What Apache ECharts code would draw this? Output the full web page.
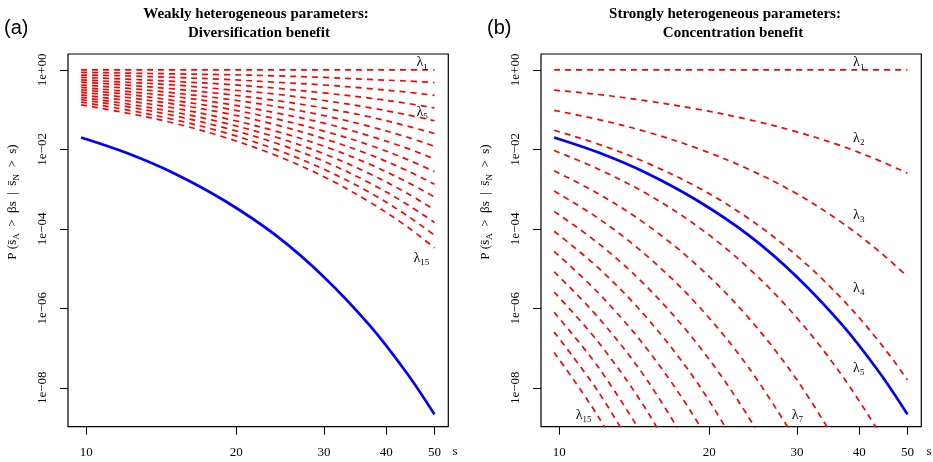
<!DOCTYPE html>
<html><head><meta charset="utf-8">
<script src="https://cdn.jsdelivr.net/npm/echarts@6/dist/echarts.min.js"></script>
<style>html,body{margin:0;padding:0;background:#fff}#c{width:933px;height:462px}</style>
</head><body><div id="c"></div>
<script>
// s values (x) at which curves were read
const S = [9.77, 12, 15, 19, 24, 30, 37, 44, 50];
// log10 of probability, blue curve (same in both panels)
const BLUE = [-1.70, -2.08, -2.60, -3.30, -4.16, -5.21, -6.42, -7.63, -8.67];
// panel (a) red curves lambda1..lambda15 (log10 p)
const RED_A1 = [0, 0, 0, 0, 0, 0, 0, 0, 0];
const RED_A2 = [-0.06, -0.08, -0.10, -0.12, -0.15, -0.19, -0.24, -0.28, -0.32];
const RED_A3 = [-0.13, -0.15, -0.19, -0.24, -0.31, -0.38, -0.47, -0.56, -0.64];
const RED_A4 = [-0.19, -0.23, -0.29, -0.36, -0.46, -0.58, -0.71, -0.84, -0.96];
const RED_A5 = [-0.25, -0.31, -0.38, -0.49, -0.61, -0.77, -0.95, -1.13, -1.28];
const RED_A6 = [-0.31, -0.38, -0.48, -0.61, -0.77, -0.96, -1.18, -1.41, -1.60];
const RED_A7 = [-0.38, -0.46, -0.58, -0.73, -0.92, -1.15, -1.42, -1.69, -1.92];
const RED_A8 = [-0.44, -0.54, -0.67, -0.85, -1.08, -1.34, -1.66, -1.97, -2.24];
const RED_A9 = [-0.50, -0.61, -0.77, -0.97, -1.23, -1.54, -1.89, -2.25, -2.56];
const RED_A10 = [-0.56, -0.69, -0.86, -1.09, -1.38, -1.73, -2.13, -2.53, -2.88];
const RED_A11 = [-0.63, -0.77, -0.96, -1.22, -1.54, -1.92, -2.37, -2.82, -3.20];
const RED_A12 = [-0.69, -0.85, -1.06, -1.34, -1.69, -2.11, -2.61, -3.10, -3.52];
const RED_A13 = [-0.75, -0.92, -1.15, -1.46, -1.84, -2.30, -2.84, -3.38, -3.84];
const RED_A14 = [-0.81, -1.00, -1.25, -1.58, -2.00, -2.50, -3.08, -3.66, -4.16];
const RED_A15 = [-0.88, -1.08, -1.34, -1.70, -2.15, -2.69, -3.32, -3.94, -4.48];
// panel (b) red curves lambda1..lambda15 (log10 p), read until they leave the plot
const RED_B1 = [0, 0, 0, 0, 0, 0, 0, 0, 0];
const RED_B2 = [-0.51, -0.62, -0.78, -0.99, -1.25, -1.56, -1.92, -2.29, -2.60];
const RED_B3 = [-1.02, -1.25, -1.56, -1.98, -2.50, -3.12, -3.85, -4.58, -5.20];
const RED_B4 = [-1.52, -1.87, -2.34, -2.96, -3.74, -4.68, -5.77, -6.86, -7.80];
const RED_B5 = [-2.03, -2.50, -3.12, -3.95, -4.99, -6.24, -7.70, -9.15];
const RED_B6 = [-2.54, -3.12, -3.90, -4.94, -6.24, -7.80, -9.62];
const RED_B7 = [-3.05, -3.74, -4.68, -5.93, -7.49, -9.36];
const RED_B8 = [-3.56, -4.37, -5.46, -6.92, -8.74, -10.92];
const RED_B9 = [-4.06, -4.99, -6.24, -7.90, -9.98];
const RED_B10 = [-4.57, -5.62, -7.02, -8.89, -11.23];
const RED_B11 = [-5.08, -6.24, -7.80, -9.88];
const RED_B12 = [-5.59, -6.86, -8.58, -10.87];
const RED_B13 = [-6.10, -7.49, -9.36];
const RED_B14 = [-6.60, -8.11, -10.14];
const RED_B15 = [-7.11, -8.74, -10.92];

const XTICKS = [10, 20, 30, 40, 50];
const YTICK_EXP = [0, -2, -4, -6, -8];
const YTICK_LABELS = ['1e+00', '1e\u221202', '1e\u221204', '1e\u221206', '1e\u221208'];
const TITLES_A = ['Weakly heterogeneous parameters:', 'Diversification benefit'];
const TITLES_B = ['Strongly heterogeneous parameters:', 'Concentration benefit'];
// lambda label anchors: [panel, index, s, log10 p]
const LAMBDA_LABELS = [
  [0, '1', 46.0, 0.18], [0, '5', 46.0, -1.06], [0, '15', 45.4, -4.74],
  [1, '1', 38.9, 0.18], [1, '2', 38.9, -1.71], [1, '3', 38.9, -3.65],
  [1, '4', 38.9, -5.49], [1, '5', 38.9, -7.51], [1, '7', 29.3, -8.69], [1, '15', 10.8, -8.69]
];

const RED_A = [RED_A1,RED_A2,RED_A3,RED_A4,RED_A5,RED_A6,RED_A7,RED_A8,RED_A9,RED_A10,RED_A11,RED_A12,RED_A13,RED_A14,RED_A15];
const RED_B = [RED_B1,RED_B2,RED_B3,RED_B4,RED_B5,RED_B6,RED_B7,RED_B8,RED_B9,RED_B10,RED_B11,RED_B12,RED_B13,RED_B14,RED_B15];

const SERIF = '"Liberation Serif", "DejaVu Serif", serif';
const XMIN = 0.9636, XMAX = 1.7268, YMIN = -8.98, YMAX = 0.40;
const toPts = vals => vals.map((v, i) => [Math.log10(S[i]), v]);

const chart = echarts.init(document.getElementById('c'), null, {renderer: 'canvas'});

function xAxis(g) {
  const cv = XTICKS.map(Math.log10);
  return {
    type: 'value', gridIndex: g, min: XMIN, max: XMAX,
    axisLine: {show: false, onZero: false},
    splitLine: {show: false},
    axisTick: {show: true, length: 8, customValues: cv, lineStyle: {color: '#000', width: 1}},
    axisLabel: {customValues: cv, margin: 19, fontFamily: SERIF, fontSize: 13, color: '#000',
      formatter: v => String(Math.round(Math.pow(10, v)))}
  };
}
function yAxis(g) {
  return {
    type: 'value', gridIndex: g, min: YMIN, max: YMAX,
    axisLine: {show: false, onZero: false},
    splitLine: {show: false},
    axisTick: {show: true, length: 8, customValues: YTICK_EXP, lineStyle: {color: '#000', width: 1}},
    axisLabel: {customValues: YTICK_EXP, rotate: 90, margin: 19, fontFamily: SERIF, fontSize: 13, color: '#000',
      formatter: v => YTICK_LABELS[YTICK_EXP.indexOf(Math.round(v))] || ''}
  };
}

const series = [];
function addRed(arr, g) {
  arr.forEach(vals => series.push({
    type: 'line', xAxisIndex: g, yAxisIndex: g, data: toPts(vals), symbol: 'none', silent: true,
    smooth: 0.35,
    lineStyle: {color: '#ff0000', width: 1.7, type: [6, 5]}, clip: true, z: 2
  }));
}
addRed(RED_A, 0); addRed(RED_B, 1);
[0, 1].forEach(g => series.push({
  type: 'line', xAxisIndex: g, yAxisIndex: g, data: toPts(BLUE), symbol: 'none', silent: true,
  smooth: 0.35,
  lineStyle: {color: '#0000ff', width: 2.7}, clip: true, z: 3
}));

chart.setOption({
  animation: false,
  backgroundColor: '#fff',
  grid: [
    {left: 68, top: 54, width: 380.3, height: 372.7, show: true, borderColor: '#000', borderWidth: 1.2, backgroundColor: 'transparent'},
    {left: 541, top: 54, width: 380.3, height: 372.7, show: true, borderColor: '#000', borderWidth: 1.2, backgroundColor: 'transparent'}
  ],
  xAxis: [xAxis(0), xAxis(1)],
  yAxis: [yAxis(0), yAxis(1)],
  series: series
});

const rich = {
  l: {fontFamily: SERIF, fontSize: 14, lineHeight: 18, verticalAlign: 'middle', color: '#222'},
  s: {fontFamily: SERIF, fontSize: 9, lineHeight: 12, verticalAlign: 'bottom', color: '#222'}
};
const graphics = [];
LAMBDA_LABELS.forEach(([g, idx, s, lp]) => {
  const p = chart.convertToPixel({gridIndex: g}, [Math.log10(s), lp]);
  graphics.push({type: 'text', x: p[0], y: p[1], z: 10, style: {
    text: '{l|\u03bb}{s|' + idx + '}', rich: rich, textAlign: 'left', textVerticalAlign: 'middle'}});
});
function title(cx, lines, cx2) {
  graphics.push({type: 'text', x: cx, y: 14, style: {text: lines[0], font: 'bold 15px ' + SERIF, fill: '#000', textAlign: 'center', textVerticalAlign: 'middle'}});
  graphics.push({type: 'text', x: cx2, y: 33, style: {text: lines[1], font: 'bold 15px ' + SERIF, fill: '#000', textAlign: 'center', textVerticalAlign: 'middle'}});
}
title(256, TITLES_A, 259);
title(725, TITLES_B, 733);
graphics.push({type: 'text', x: 4, y: 28, style: {text: '(a)', font: '20px "Liberation Sans", Arial, sans-serif', fill: '#000', textAlign: 'left', textVerticalAlign: 'middle'}});
graphics.push({type: 'text', x: 487, y: 28, style: {text: '(b)', font: '20px "Liberation Sans", Arial, sans-serif', fill: '#000', textAlign: 'left', textVerticalAlign: 'middle'}});
graphics.push({type: 'text', x: 455, y: 452, style: {text: 's', font: '13px ' + SERIF, fill: '#000', textAlign: 'center', textVerticalAlign: 'middle'}});
graphics.push({type: 'text', x: 929, y: 452, style: {text: 's', font: '13px ' + SERIF, fill: '#000', textAlign: 'center', textVerticalAlign: 'middle'}});
const yRich = {
  n: {fontFamily: SERIF, fontSize: 13, lineHeight: 16, verticalAlign: 'middle', color: '#000'},
  b: {fontFamily: SERIF, fontSize: 9, lineHeight: 10, verticalAlign: 'bottom', color: '#000'}
};
const SP = '\u2002';
const yTitle = '{n|P (s\u0304}{b|A}{n|' + SP + '>' + SP + '\u03b2s' + SP + '|' + SP + 's\u0304}{b|N}{n|' + SP + '>' + SP + 's)}';
[13, 486].forEach(x => graphics.push({type: 'text', x: x, y: 202, rotation: Math.PI / 2, style: {
  text: yTitle, rich: yRich, textAlign: 'center', textVerticalAlign: 'middle'}}));
chart.setOption({graphic: graphics});
</script></body></html>
